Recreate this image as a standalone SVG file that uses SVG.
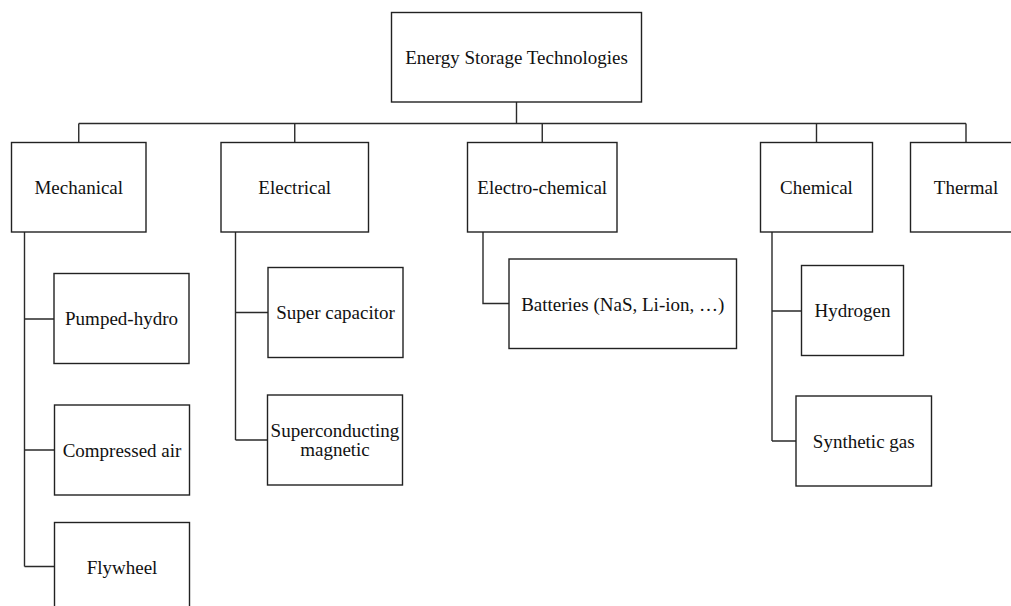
<svg xmlns="http://www.w3.org/2000/svg" width="1011" height="606" viewBox="0 0 1011 606">
<style>
.box{fill:#fff;stroke:#222;stroke-width:1.4}
.lbl{font-family:"Liberation Serif","Times New Roman",serif;font-size:19px;fill:#111;text-anchor:middle}
.conn{fill:none;stroke:#2a2a2a;stroke-width:1.4}
</style>
<rect width="1011" height="606" fill="#fff"/>
<g id="connectors">
<path class="conn" d="M516.5 102 V123.5 M78.75 123.5 H966"/>
<path class="conn" d="M78.75 123.5 V142.5 M294.75 123.5 V142.5 M542.25 123.5 V142.5 M816.5 123.5 V142.5 M966 123.5 V142.5"/>
<path class="conn" d="M24.5 232 V566.5 M24.5 319 H54 M24.5 450 H54.5 M24.5 566.5 H54.5"/>
<path class="conn" d="M235.5 232 V440 M235.5 312.5 H268 M235.5 440 H267.5"/>
<path class="conn" d="M483 232 V303.5 H509"/>
<path class="conn" d="M772 232 V441 M772 311 H801.5 M772 441 H796"/>
</g>
<g id="root"><rect class="box" x="391.5" y="12.5" width="250" height="89.5"/><text class="lbl" x="516.5" y="64">Energy Storage Technologies</text></g>
<g id="mechanical"><rect class="box" x="11.5" y="142.5" width="134.5" height="89.5"/><text class="lbl" x="78.75" y="193.5">Mechanical</text></g>
<g id="electrical"><rect class="box" x="221" y="142.5" width="147.5" height="89.5"/><text class="lbl" x="294.75" y="193.5">Electrical</text></g>
<g id="electrochemical"><rect class="box" x="467.5" y="142.5" width="149.5" height="89.5"/><text class="lbl" x="542.25" y="193.5">Electro-chemical</text></g>
<g id="chemical"><rect class="box" x="760.5" y="142.5" width="112" height="89.5"/><text class="lbl" x="816.5" y="193.5">Chemical</text></g>
<g id="thermal"><rect class="box" x="910.5" y="142.5" width="111" height="89.5"/><text class="lbl" x="966" y="193.5">Thermal</text></g>
<g id="pumped-hydro"><rect class="box" x="54" y="273.5" width="135" height="90"/><text class="lbl" x="121.5" y="325">Pumped-hydro</text></g>
<g id="compressed-air"><rect class="box" x="54.5" y="405" width="135" height="90"/><text class="lbl" x="122" y="456.5">Compressed air</text></g>
<g id="flywheel"><rect class="box" x="54.5" y="522.5" width="135" height="90"/><text class="lbl" x="122" y="574">Flywheel</text></g>
<g id="super-capacitor"><rect class="box" x="268" y="267.5" width="135" height="90"/><text class="lbl" x="335.5" y="319">Super capacitor</text></g>
<g id="superconducting"><rect class="box" x="267.5" y="395" width="135" height="90"/><text class="lbl" x="335" y="437">Superconducting</text><text class="lbl" x="335" y="456">magnetic</text></g>
<g id="batteries"><rect class="box" x="509" y="259" width="227.5" height="89.5"/><text class="lbl" x="622.75" y="311">Batteries (NaS, Li-ion, …)</text></g>
<g id="hydrogen"><rect class="box" x="801.5" y="265.5" width="102" height="90"/><text class="lbl" x="852.5" y="317">Hydrogen</text></g>
<g id="synthetic-gas"><rect class="box" x="796" y="396" width="135.5" height="90"/><text class="lbl" x="863.75" y="447.5">Synthetic gas</text></g>
</svg>
